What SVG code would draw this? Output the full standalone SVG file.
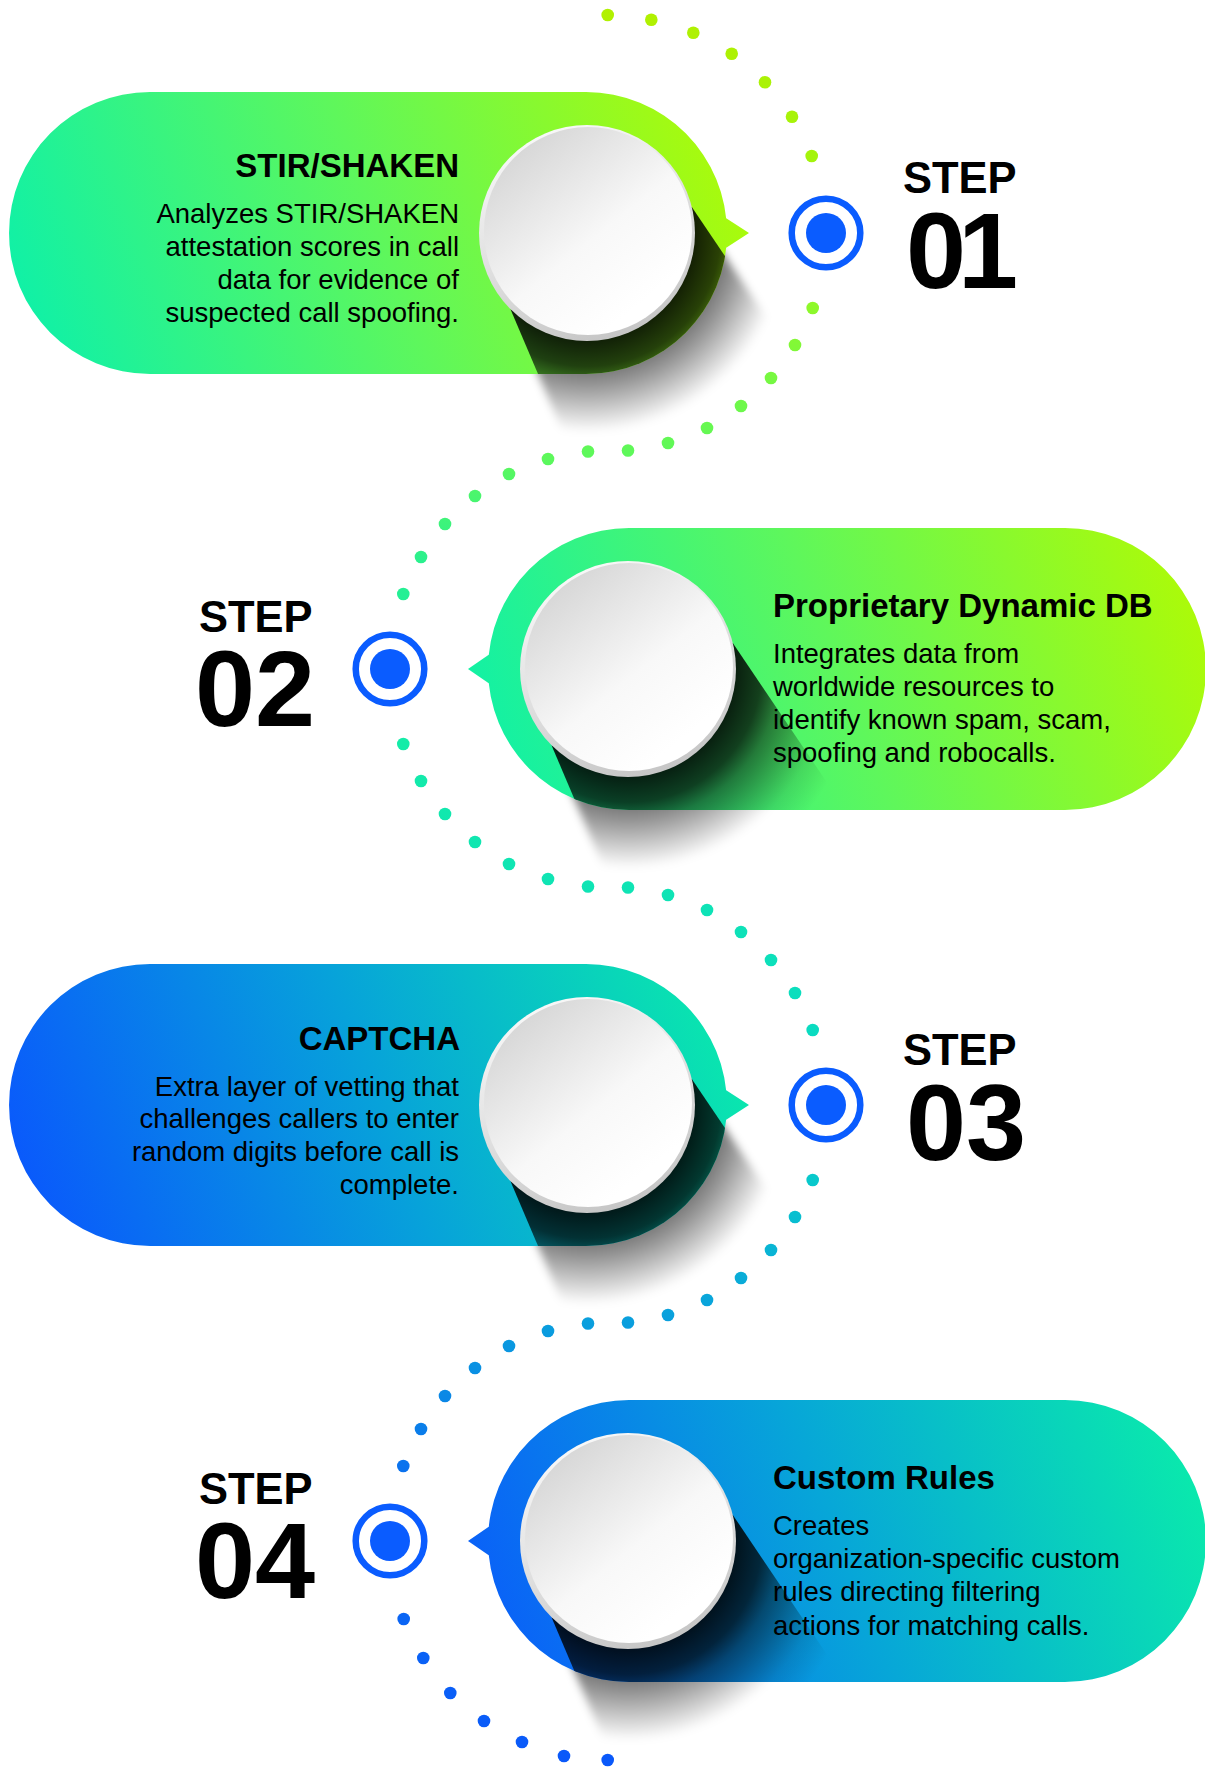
<svg xmlns="http://www.w3.org/2000/svg" xmlns:xlink="http://www.w3.org/1999/xlink" width="1205" height="1768" viewBox="0 0 1205 1768">
  <style>
    text { font-family: "Liberation Sans", Arial, Helvetica, sans-serif; fill: #000; }
    .title { font-size: 33px; font-weight: 700; }
    .body { font-size: 27.5px; }
    .end { text-anchor: end; }
    .step { font-size: 43.5px; font-weight: 700; }
    .num { font-size: 108px; font-weight: 700; }
    .ring { fill: none; stroke: #0a5cff; stroke-width: 6.5; }
    .core { fill: #0a5cff; }
  </style>
  <defs>
    <!-- pill fills: right-tailed (pill left of centre) and left-tailed variants -->
    <linearGradient id="gR" gradientUnits="userSpaceOnUse" x1="-578" y1="141" x2="162" y2="-141">
      <stop offset="0" stop-color="#08f0ae"/>
      <stop offset="0.5" stop-color="#5ef75c"/>
      <stop offset="1" stop-color="#b4fb00"/>
    </linearGradient>
    <linearGradient id="gL" gradientUnits="userSpaceOnUse" x1="-160" y1="141" x2="578" y2="-141">
      <stop offset="0" stop-color="#08f0ae"/>
      <stop offset="0.5" stop-color="#5ef75c"/>
      <stop offset="1" stop-color="#b4fb00"/>
    </linearGradient>
    <linearGradient id="bR" gradientUnits="userSpaceOnUse" x1="-578" y1="141" x2="162" y2="-141">
      <stop offset="0" stop-color="#0a52ff"/>
      <stop offset="0.5" stop-color="#07a2da"/>
      <stop offset="1" stop-color="#0af0a8"/>
    </linearGradient>
    <linearGradient id="bL" gradientUnits="userSpaceOnUse" x1="-160" y1="141" x2="578" y2="-141">
      <stop offset="0" stop-color="#0a58fc"/>
      <stop offset="0.5" stop-color="#07a6d8"/>
      <stop offset="1" stop-color="#0af0a8"/>
    </linearGradient>

    <!-- white disc: bevel rim + face -->
    <linearGradient id="rim" x1="0.2" y1="0" x2="0.6" y2="1">
      <stop offset="0" stop-color="#fbfbfb"/>
      <stop offset="1" stop-color="#c6c6c6"/>
    </linearGradient>
    <linearGradient id="face" x1="0.15" y1="0.1" x2="0.75" y2="0.85">
      <stop offset="0" stop-color="#d6d6d6"/>
      <stop offset="0.6" stop-color="#f8f8f8"/>
      <stop offset="1" stop-color="#ffffff"/>
    </linearGradient>

    <!-- long cast shadow -->
    <radialGradient id="shIn" gradientUnits="userSpaceOnUse" cx="0" cy="0" r="230">
      <stop offset="0" stop-color="#000" stop-opacity="0.9"/>
      <stop offset="0.46" stop-color="#000" stop-opacity="0.88"/>
      <stop offset="0.58" stop-color="#000" stop-opacity="0.74"/>
      <stop offset="0.66" stop-color="#000" stop-opacity="0.5"/>
      <stop offset="0.87" stop-color="#000" stop-opacity="0.12"/>
      <stop offset="1" stop-color="#000" stop-opacity="0"/>
    </radialGradient>
    <radialGradient id="shOut" gradientUnits="userSpaceOnUse" cx="0" cy="0" r="210">
      <stop offset="0" stop-color="#000" stop-opacity="0.55"/>
      <stop offset="0.64" stop-color="#000" stop-opacity="0.55"/>
      <stop offset="0.72" stop-color="#000" stop-opacity="0.42"/>
      <stop offset="0.95" stop-color="#000" stop-opacity="0"/>
    </radialGradient>
    <filter id="soft" x="-20%" y="-20%" width="140%" height="140%">
      <feGaussianBlur stdDeviation="4"/>
    </filter>

    <path id="shadowPoly" d="M0,0L104.8,-26.1L283.7,239.2L48.7,371L-76.4,76.4Z"/>
    <clipPath id="clipR"><path d="M-437,-141H-1A141,141 0 0 1 -1,141H-437A141,141 0 0 1 -437,-141Z"/></clipPath>
    <clipPath id="clipL"><path d="M1,-141H437A141,141 0 0 1 437,141H1A141,141 0 0 1 1,-141Z"/></clipPath>

    <g id="disc">
      <circle r="108" fill="url(#rim)"/>
      <circle cx="1" cy="-2" r="104" fill="url(#face)"/>
    </g>

    <linearGradient id="dotGrad" gradientUnits="userSpaceOnUse" x1="0" y1="0" x2="0" y2="1768">
      <stop offset="0" stop-color="#b2f000"/>
      <stop offset="0.09" stop-color="#a4f40c"/>
      <stop offset="0.17" stop-color="#90f828"/>
      <stop offset="0.26" stop-color="#5cf85c"/>
      <stop offset="0.32" stop-color="#28f090"/>
      <stop offset="0.38" stop-color="#18eea2"/>
      <stop offset="0.42" stop-color="#14eca8"/>
      <stop offset="0.58" stop-color="#0adcc0"/>
      <stop offset="0.67" stop-color="#08c8cc"/>
      <stop offset="0.76" stop-color="#0a98e0"/>
      <stop offset="0.83" stop-color="#0a72ee"/>
      <stop offset="1" stop-color="#0a58fa"/>
    </linearGradient>
  </defs>

  <rect width="1205" height="1768" fill="#ffffff"/>

  <!-- dotted path linking the step markers -->
  <g id="connectors" fill="url(#dotGrad)">
    <circle cx="607.7" cy="15" r="6.3"/>
    <circle cx="651.3" cy="19.7" r="6.3"/>
    <circle cx="693.3" cy="32.7" r="6.3"/>
    <circle cx="731.7" cy="53.7" r="6.3"/>
    <circle cx="765" cy="82.3" r="6.3"/>
    <circle cx="792" cy="116.7" r="6.3"/>
    <circle cx="811.7" cy="156" r="6.3"/>

    <circle cx="812.7" cy="308" r="6.3"/>
    <circle cx="795" cy="345" r="6.3"/>
    <circle cx="771" cy="378" r="6.3"/>
    <circle cx="741" cy="406" r="6.3"/>
    <circle cx="707" cy="428" r="6.3"/>
    <circle cx="668" cy="443" r="6.3"/>
    <circle cx="628" cy="450.5" r="6.3"/>
    <circle cx="588" cy="451.5" r="6.3"/>
    <circle cx="548" cy="459" r="6.3"/>
    <circle cx="509" cy="474" r="6.3"/>
    <circle cx="475" cy="496" r="6.3"/>
    <circle cx="445" cy="524" r="6.3"/>
    <circle cx="421" cy="557" r="6.3"/>
    <circle cx="403.3" cy="594" r="6.3"/>

    <circle cx="403.3" cy="744" r="6.3"/>
    <circle cx="421" cy="781" r="6.3"/>
    <circle cx="445" cy="814" r="6.3"/>
    <circle cx="475" cy="842" r="6.3"/>
    <circle cx="509" cy="864" r="6.3"/>
    <circle cx="548" cy="879" r="6.3"/>
    <circle cx="588" cy="886.5" r="6.3"/>
    <circle cx="628" cy="887.5" r="6.3"/>
    <circle cx="668" cy="895" r="6.3"/>
    <circle cx="707" cy="910" r="6.3"/>
    <circle cx="741" cy="932" r="6.3"/>
    <circle cx="771" cy="960" r="6.3"/>
    <circle cx="795" cy="993" r="6.3"/>
    <circle cx="812.7" cy="1030" r="6.3"/>

    <circle cx="812.7" cy="1180" r="6.3"/>
    <circle cx="795" cy="1217" r="6.3"/>
    <circle cx="771" cy="1250" r="6.3"/>
    <circle cx="741" cy="1278" r="6.3"/>
    <circle cx="707" cy="1300" r="6.3"/>
    <circle cx="668" cy="1315" r="6.3"/>
    <circle cx="628" cy="1322.5" r="6.3"/>
    <circle cx="588" cy="1323.5" r="6.3"/>
    <circle cx="548" cy="1331" r="6.3"/>
    <circle cx="509" cy="1346" r="6.3"/>
    <circle cx="475" cy="1368" r="6.3"/>
    <circle cx="445" cy="1396" r="6.3"/>
    <circle cx="421" cy="1429" r="6.3"/>
    <circle cx="403.3" cy="1466" r="6.3"/>

    <circle cx="403.7" cy="1619" r="6.3"/>
    <circle cx="423.3" cy="1658" r="6.3"/>
    <circle cx="450.3" cy="1693" r="6.3"/>
    <circle cx="484" cy="1721" r="6.3"/>
    <circle cx="522" cy="1742" r="6.3"/>
    <circle cx="564" cy="1756" r="6.3"/>
    <circle cx="607.7" cy="1760" r="6.3"/>
  </g>

  <!-- Step 01 -->
  <g id="step-01" transform="translate(587,233)">
    <use xlink:href="#shadowPoly" fill="url(#shOut)" filter="url(#soft)"/>
    <path d="M-437,-141H-1A141,141 0 0 1 -1,141H-437A141,141 0 0 1 -437,-141Z M128,-22L162,0L128,22Z" fill="url(#gR)"/>
    <use xlink:href="#shadowPoly" fill="url(#shIn)" clip-path="url(#clipR)"/>
    <use xlink:href="#disc"/>
    <text class="title end" x="-128" y="-56">STIR/SHAKEN</text>
    <text class="body end" x="-128" y="-10">Analyzes STIR/SHAKEN</text>
    <text class="body end" x="-128" y="23">attestation scores in call</text>
    <text class="body end" x="-128" y="56">data for evidence of</text>
    <text class="body end" x="-128" y="89">suspected call spoofing.</text>
    <circle class="ring" cx="239" cy="0" r="34.3"/>
    <circle class="core" cx="239" cy="0" r="20"/>
    <text class="step" x="316" y="-40">STEP</text>
    <text class="num" x="319" y="55">0<tspan dx="-8">1</tspan></text>
  </g>

  <!-- Step 02 -->
  <g id="step-02" transform="translate(628,669)">
    <use xlink:href="#shadowPoly" fill="url(#shOut)" filter="url(#soft)"/>
    <path d="M1,-141H437A141,141 0 0 1 437,141H1A141,141 0 0 1 1,-141Z M-128,22L-160,0L-128,-22Z" fill="url(#gL)"/>
    <use xlink:href="#shadowPoly" fill="url(#shIn)" clip-path="url(#clipL)"/>
    <use xlink:href="#disc"/>
    <text class="title" x="145" y="-52">Proprietary Dynamic DB</text>
    <text class="body" x="145" y="-6">Integrates data from</text>
    <text class="body" x="145" y="27">worldwide resources to</text>
    <text class="body" x="145" y="60">identify known spam, scam,</text>
    <text class="body" x="145" y="93">spoofing and robocalls.</text>
    <circle class="ring" cx="-238" cy="0" r="34.3"/>
    <circle class="core" cx="-238" cy="0" r="20"/>
    <text class="step" x="-429" y="-37">STEP</text>
    <text class="num" x="-433" y="57">02</text>
  </g>

  <!-- Step 03 -->
  <g id="step-03" transform="translate(587,1105)">
    <use xlink:href="#shadowPoly" fill="url(#shOut)" filter="url(#soft)"/>
    <path d="M-437,-141H-1A141,141 0 0 1 -1,141H-437A141,141 0 0 1 -437,-141Z M128,-22L162,0L128,22Z" fill="url(#bR)"/>
    <use xlink:href="#shadowPoly" fill="url(#shIn)" clip-path="url(#clipR)"/>
    <use xlink:href="#disc"/>
    <text class="title end" x="-127" y="-55">CAPTCHA</text>
    <text class="body end" x="-128" y="-9">Extra layer of vetting that</text>
    <text class="body end" x="-128" y="23">challenges callers to enter</text>
    <text class="body end" x="-128" y="56">random digits before call is</text>
    <text class="body end" x="-128" y="89">complete.</text>
    <circle class="ring" cx="239" cy="0" r="34.3"/>
    <circle class="core" cx="239" cy="0" r="20"/>
    <text class="step" x="316" y="-40">STEP</text>
    <text class="num" x="319" y="55">03</text>
  </g>

  <!-- Step 04 -->
  <g id="step-04" transform="translate(628,1541)">
    <use xlink:href="#shadowPoly" fill="url(#shOut)" filter="url(#soft)"/>
    <path d="M1,-141H437A141,141 0 0 1 437,141H1A141,141 0 0 1 1,-141Z M-128,22L-160,0L-128,-22Z" fill="url(#bL)"/>
    <use xlink:href="#shadowPoly" fill="url(#shIn)" clip-path="url(#clipL)"/>
    <use xlink:href="#disc"/>
    <text class="title" x="145" y="-52">Custom Rules</text>
    <text class="body" x="145" y="-6">Creates</text>
    <text class="body" x="145" y="27">organization-specific custom</text>
    <text class="body" x="145" y="60">rules directing filtering</text>
    <text class="body" x="145" y="94">actions for matching calls.</text>
    <circle class="ring" cx="-238" cy="0" r="34.3"/>
    <circle class="core" cx="-238" cy="0" r="20"/>
    <text class="step" x="-429" y="-37">STEP</text>
    <text class="num" x="-433" y="57">04</text>
  </g>
</svg>
